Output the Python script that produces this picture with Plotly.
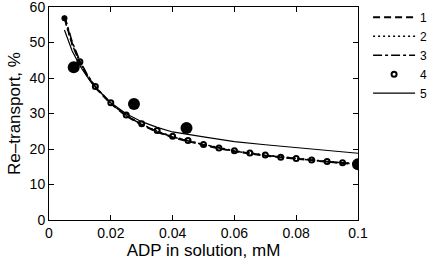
import plotly.graph_objects as go

# ---- data ----
x_fit = [0.005, 0.0075, 0.01, 0.0125, 0.015, 0.02, 0.025, 0.03, 0.035, 0.04,
         0.05, 0.06, 0.07, 0.08, 0.09, 0.1]
y1 = [57.0, 49.6, 44.3, 40.4, 37.3, 32.8, 29.3, 26.8, 24.8, 23.3,
      21.1, 19.3, 18.1, 17.2, 16.4, 15.7]
y2 = [56.6, 49.4, 44.4, 40.6, 37.5, 32.9, 29.5, 27.0, 25.0, 23.5,
      21.3, 19.5, 18.3, 17.3, 16.5, 15.8]
y3 = [57.6, 50.2, 44.8, 40.8, 37.6, 32.9, 29.4, 26.9, 24.9, 23.4,
      21.2, 19.4, 18.2, 17.2, 16.4, 15.7]
x4 = [0.01, 0.015, 0.02, 0.025, 0.03, 0.035, 0.04, 0.045, 0.05, 0.055,
      0.06, 0.065, 0.07, 0.075, 0.08, 0.085, 0.09, 0.095]
y4 = [44.6, 37.6, 33.0, 29.6, 27.1, 25.2, 23.6, 22.4, 21.3, 20.3,
      19.5, 18.9, 18.3, 17.7, 17.3, 16.9, 16.5, 16.1]
y5 = [53.5, 47.6, 43.5, 40.2, 37.4, 33.0, 29.9, 27.7, 26.1, 24.8,
      23.4, 22.1, 21.2, 20.4, 19.6, 18.8]
x_data = [0.005, 0.008, 0.0275, 0.0445, 0.1]
y_data = [56.8, 43.0, 32.7, 25.9, 15.7]
data_sizes = [6, 12, 12, 12, 12]

xtick_vals = [0, 0.02, 0.04, 0.06, 0.08, 0.1]
xtick_text = ["0", "0.02", "0.04", "0.06", "0.08", "0.1"]
ytick_vals = [0, 10, 20, 30, 40, 50, 60]

fig = go.Figure()
fig.add_trace(go.Scatter(x=x_fit, y=y1, mode="lines", name="1",
                         line=dict(color="black", width=2, dash="7px,4px")))
fig.add_trace(go.Scatter(x=x_fit, y=y2, mode="lines", name="2",
                         line=dict(color="black", width=1.5, dash="2px,3px")))
fig.add_trace(go.Scatter(x=x_fit, y=y3, mode="lines", name="3",
                         line=dict(color="black", width=1.5, dash="dashdot")))
fig.add_trace(go.Scatter(x=x4, y=y4, mode="markers", name="4",
                         marker=dict(symbol="circle-open", size=5, color="black",
                                     opacity=1, line=dict(width=2, color="black"))))
fig.add_trace(go.Scatter(x=x_fit, y=y5, mode="lines", name="5",
                         line=dict(color="black", width=1.2)))
fig.add_trace(go.Scatter(x=x_data, y=y_data, mode="markers", showlegend=False,
                         marker=dict(size=data_sizes, color="black", opacity=1,
                                     line=dict(width=0))))

axis_common = dict(showline=True, linecolor="black", linewidth=1, mirror="ticks",
                   ticks="inside", ticklen=5, tickcolor="black", showgrid=False,
                   zeroline=False, automargin=False, ticklabeloverflow="allow",
                   tickfont=dict(size=14, color="black"))

fig.update_layout(
    width=431, height=264,
    margin=dict(l=49, r=73, t=7, b=44),
    paper_bgcolor="white", plot_bgcolor="white",
    font=dict(family="Liberation Sans, Arial, sans-serif", color="black"),
    showlegend=True,
    legend=dict(xref="container", yref="container", x=0.854, y=0.99,
                xanchor="left", yanchor="top",
                font=dict(size=12, color="black"), tracegroupgap=0,
                itemwidth=42, bgcolor="rgba(0,0,0,0)"),
)
fig.update_xaxes(range=[0, 0.1], tickvals=xtick_vals, ticktext=xtick_text,
                 title=dict(text="ADP in solution, mM", font=dict(size=17), standoff=2),
                 **axis_common)
fig.update_yaxes(range=[0, 60], tickvals=ytick_vals,
                 title=dict(text="Re–transport, %", font=dict(size=17), standoff=4),
                 **axis_common)

fig.write_html("out.html", config={"displayModeBar": False},
               post_script="document.body.style.margin='0';document.body.style.overflow='hidden';")
